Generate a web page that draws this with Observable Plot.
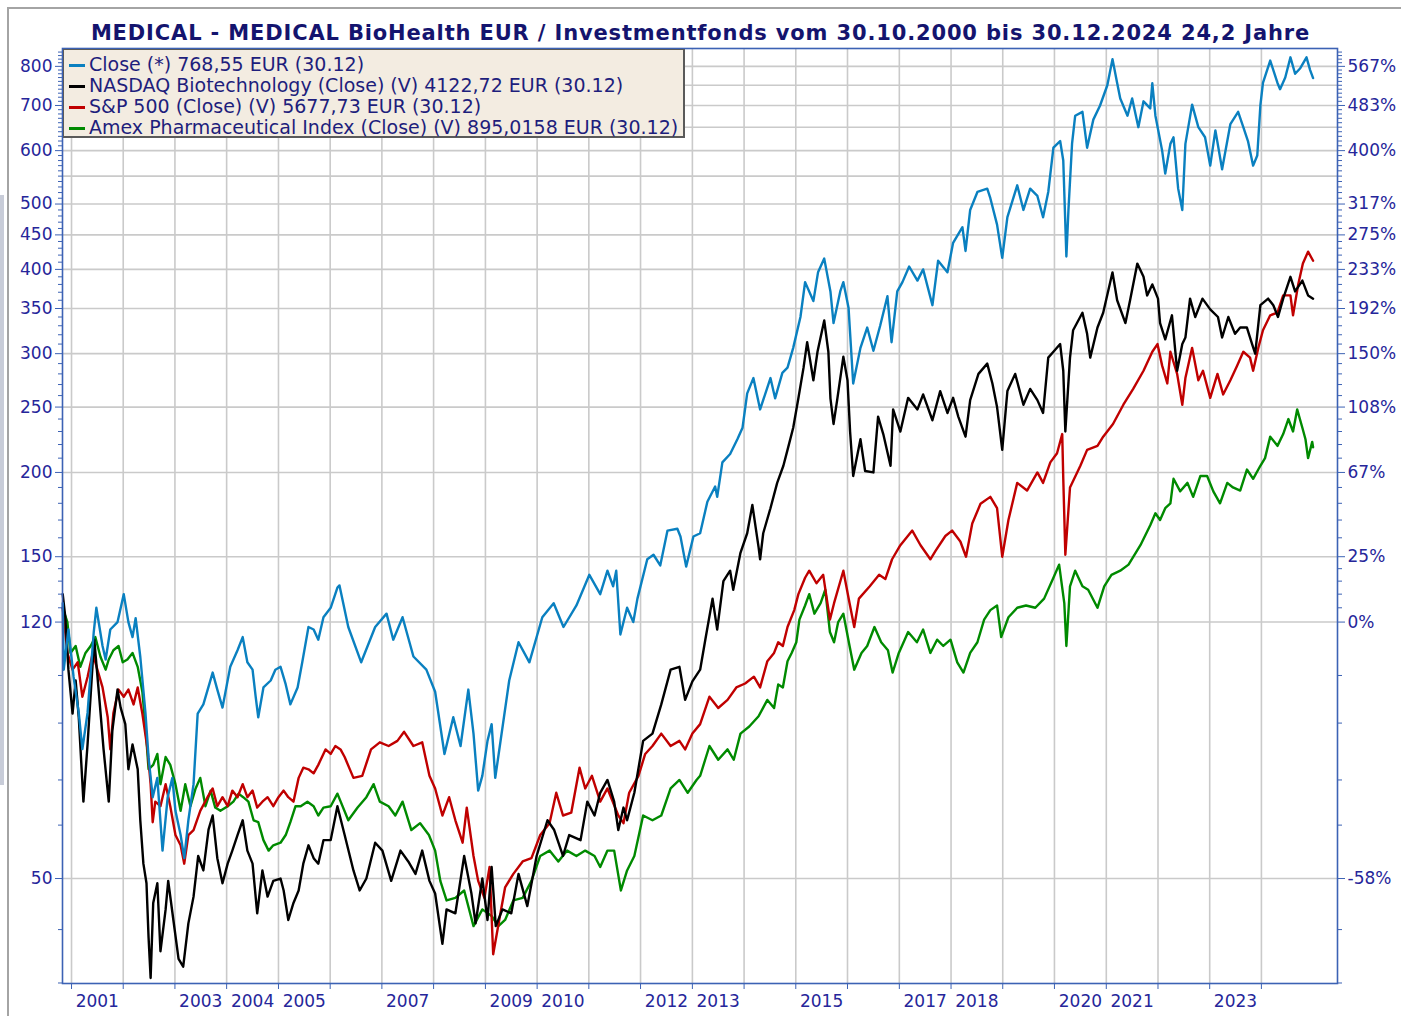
<!DOCTYPE html>
<html>
<head>
<meta charset="utf-8">
<script src="https://cdn.jsdelivr.net/npm/d3@7"></script>
<script src="https://cdn.jsdelivr.net/npm/@observablehq/plot@0.6"></script>
<style>
  html, body { margin: 0; padding: 0; background: #ffffff; }
  #wrap { position: relative; width: 1401px; height: 1016px; overflow: hidden; font-family: "DejaVu Sans", sans-serif; }
  #chart { position: absolute; left: 0; top: 0; }
  #chart svg text { fill: #26269a; }
  #title { position: absolute; left: 0; top: 20px; width: 1401px; text-align: center; font-weight: bold; font-size: 21px; letter-spacing: 0.85px; color: #14146e; white-space: nowrap; line-height: 26px; }
  #legend { position: absolute; left: 63px; top: 49px; width: 622px; height: 89px; background: #f3ece1; border: 1px solid #5a5a5a; border-right-width: 2px; border-bottom-width: 2px; box-sizing: border-box; padding-top: 4px; }
  .lrow { height: 21px; line-height: 21px; font-size: 19px; color: #1e1e7c; white-space: nowrap; position: relative; padding-left: 25px; }
  .lrow .sw { position: absolute; left: 5px; top: 10px; width: 16px; height: 2.5px; }
  #frameTop { position: absolute; left: 8px; top: 7px; width: 1393px; height: 2px; background: #a4a4a4; }
  #frameLeft { position: absolute; left: 7px; top: 7px; width: 2px; height: 1009px; background: #a4a4a4; }
  #sideBar { position: absolute; left: 0; top: 195px; width: 4px; height: 590px; background: #c8ccd8; }
</style>
</head>
<body>
<div id="wrap">
  <div id="frameTop"></div>
  <div id="frameLeft"></div>
  <div id="sideBar"></div>
  <div id="chart"></div>
  <div id="title"></div>
  <div id="legend"></div>
</div>
<script>
// ---------------- DATA ----------------
const titleText = "MEDICAL - MEDICAL BioHealth EUR / Investmentfonds vom 30.10.2000 bis 30.12.2024 24,2 Jahre";

const seriesNames = [
  "Close (*) 768,55 EUR (30.12)",
  "NASDAQ Biotechnology (Close) (V) 4122,72 EUR (30.12)",
  "S&P 500 (Close) (V) 5677,73 EUR (30.12)",
  "Amex Pharmaceutical Index (Close) (V) 895,0158 EUR (30.12)"
];
const seriesColors = ["#0a80c0", "#000000", "#c00000", "#008a00"];

// Fund close (EUR), decimal years
const fundYears = [2000.83,2000.85,2000.94,2001.04,2001.14,2001.21,2001.31,2001.43,2001.48,2001.60,2001.66,2001.75,2001.89,2002.01,2002.10,2002.18,2002.24,2002.33,2002.43,2002.49,2002.57,2002.66,2002.76,2002.86,2002.95,2003.01,2003.11,2003.18,2003.26,2003.36,2003.44,2003.55,2003.73,2003.82,2003.92,2004.07,2004.21,2004.31,2004.40,2004.50,2004.56,2004.61,2004.71,2004.85,2004.94,2005.04,2005.14,2005.23,2005.37,2005.46,2005.58,2005.68,2005.77,2005.87,2006.01,2006.14,2006.18,2006.35,2006.60,2006.87,2007.09,2007.22,2007.40,2007.61,2007.86,2008.03,2008.21,2008.38,2008.52,2008.67,2008.77,2008.86,2008.94,2009.04,2009.12,2009.19,2009.46,2009.64,2009.85,2010.10,2010.32,2010.51,2010.76,2011.01,2011.22,2011.36,2011.47,2011.53,2011.61,2011.74,2011.86,2011.94,2012.13,2012.25,2012.38,2012.52,2012.71,2012.77,2012.88,2013.02,2013.15,2013.29,2013.44,2013.48,2013.58,2013.73,2013.87,2013.97,2014.06,2014.18,2014.31,2014.51,2014.60,2014.74,2014.84,2014.95,2015.09,2015.18,2015.34,2015.43,2015.55,2015.67,2015.73,2015.86,2015.92,2016.02,2016.11,2016.25,2016.38,2016.50,2016.63,2016.77,2016.85,2016.96,2017.06,2017.19,2017.35,2017.46,2017.64,2017.75,2017.93,2018.04,2018.22,2018.28,2018.37,2018.51,2018.70,2018.76,2018.89,2018.99,2019.09,2019.28,2019.40,2019.53,2019.67,2019.78,2019.88,2019.98,2020.11,2020.17,2020.23,2020.27,2020.34,2020.40,2020.54,2020.63,2020.75,2020.88,2021.02,2021.12,2021.21,2021.27,2021.41,2021.50,2021.62,2021.72,2021.85,2021.89,2021.95,2022.08,2022.14,2022.24,2022.30,2022.39,2022.47,2022.53,2022.66,2022.78,2022.91,2023.01,2023.11,2023.24,2023.40,2023.55,2023.65,2023.74,2023.84,2023.92,2023.98,2024.03,2024.17,2024.31,2024.36,2024.46,2024.56,2024.65,2024.75,2024.87,2024.94,2024.997];
const fundValues = [128,102,117,99.5,88,77.8,88,116,126,110.6,105.6,117,120,132,120,114,121.6,106.6,88,75.6,66,70.5,55,66,70.5,63,58,53.6,61,69,87.8,90.6,101,95.3,89.6,103,109,114,104.6,102,93,86.7,96,98.3,102,103,97,90.6,96,104.6,118,117,113,122,126,135,136,118,104.6,118,123.5,113,122,106.7,102,94.6,76.5,86.7,78.6,95.3,82,67.5,71,80,84.7,70.5,98.3,112,104.6,122,128,118,127,141,132,143,135.6,143,115,126,120,130,148.7,151,145.6,164,165,160.7,145,160.7,162.5,181,190.6,184,207,213,224,233,262,276,248,276,257.6,281,286,306,340,383,359,396,415,371,333,371,383,351,271,306,328,303,330,365,312,371,383,404,385,400,354,412,396,438,462,426,490,521,527,510,466,416,478,533,490,527,514,478,521,606,620,580,418,490,615,676,685,606,667,700,750,820,756,717,676,717,650,710,693,755,676,600,555,614,628,527,490,614,702,650,628,570,643,563,657,685,650,620,570,590,700,756,816,756,740,770,825,780,795,825,790,768.55];

// NASDAQ Biotechnology (rebased)
const nbiYears = [2000.83,2000.88,2000.94,2001.02,2001.08,2001.14,2001.23,2001.31,2001.41,2001.44,2001.52,2001.62,2001.72,2001.79,2001.89,2001.95,2002.04,2002.10,2002.18,2002.28,2002.33,2002.39,2002.45,2002.49,2002.53,2002.58,2002.66,2002.72,2002.82,2002.87,2002.97,2003.07,2003.16,2003.26,2003.36,2003.45,2003.55,2003.65,2003.73,2003.82,2003.92,2004.02,2004.11,2004.21,2004.31,2004.40,2004.50,2004.59,2004.69,2004.79,2004.90,2005.04,2005.10,2005.19,2005.29,2005.39,2005.48,2005.58,2005.68,2005.77,2005.87,2006.01,2006.14,2006.28,2006.45,2006.57,2006.70,2006.87,2007.01,2007.18,2007.36,2007.51,2007.65,2007.78,2007.92,2008.03,2008.17,2008.25,2008.42,2008.59,2008.73,2008.81,2008.94,2009.04,2009.12,2009.20,2009.33,2009.50,2009.64,2009.81,2009.99,2010.20,2010.33,2010.50,2010.62,2010.84,2010.97,2011.11,2011.22,2011.36,2011.49,2011.57,2011.67,2011.74,2011.88,2012.05,2012.23,2012.40,2012.58,2012.75,2012.86,2013.00,2013.15,2013.25,2013.39,2013.48,2013.60,2013.73,2013.79,2013.93,2014.06,2014.16,2014.28,2014.31,2014.37,2014.51,2014.64,2014.76,2014.84,2014.95,2015.05,2015.15,2015.22,2015.34,2015.42,2015.55,2015.63,2015.67,2015.73,2015.80,2015.92,2016.00,2016.05,2016.11,2016.25,2016.34,2016.50,2016.59,2016.69,2016.83,2016.88,2017.02,2017.17,2017.35,2017.46,2017.64,2017.79,2017.93,2018.04,2018.14,2018.28,2018.37,2018.53,2018.70,2018.80,2018.89,2018.99,2019.09,2019.24,2019.40,2019.53,2019.67,2019.78,2019.88,2019.98,2020.11,2020.17,2020.21,2020.30,2020.36,2020.54,2020.63,2020.69,2020.83,2020.94,2021.12,2021.21,2021.37,2021.46,2021.60,2021.72,2021.79,2021.89,2022.00,2022.04,2022.14,2022.27,2022.37,2022.47,2022.53,2022.62,2022.72,2022.86,2023.01,2023.16,2023.24,2023.36,2023.49,2023.59,2023.72,2023.82,2023.88,2023.98,2024.13,2024.23,2024.32,2024.42,2024.56,2024.65,2024.79,2024.90,2024.997];
const nbiValues = [132,122,102,87.8,98.3,86.7,65,79,104.6,113,96,77.7,65,82.9,95.3,89.6,84.7,72.6,79,72.6,61,52.6,49.2,40.9,35.6,46,49.2,39,45,49.6,43.4,38,37,42.9,47,54,51.4,59.1,62,53.6,49.2,52.6,55,58,61,55,52.6,44.4,51.4,47,49.6,50,48,43.4,46,48,52.6,56,53.6,52.6,57,57,64,58,51.4,48,50,56.5,55,49.6,55,53,50.8,55,49.6,47.5,40,45,44.4,54,47.5,42.9,50,43.4,52,42.5,45,44.4,50.8,45.5,54,61,59,54,58,57,65,62,67,70,65,59,63.7,61,67,80,82,90.6,102,103,92,98,102,113,130,117,138,143,134,152,162.5,179,155,148.7,162.5,177,193,204.6,216,233,257.6,286,312,274,302,336,302,257.6,236,256,297,274,230,197.6,224,201,200,242,228,204.6,248,230,258,248,261,239,264,245,258,242,226,256,280,290,271,250,216,264,280,252,266,256,245,296,302,310,283,230,296,325,345,321,296,328,345,396,360,333,360,408,390,366,380,362,333,315,342,283,310,317,362,340,362,349,340,317,340,321,328,328,310,300,354,362,354,340,362,390,371,385,366,362];

// S&P 500 (rebased)
const spxYears = [2000.83,2000.92,2001.02,2001.12,2001.21,2001.31,2001.41,2001.50,2001.60,2001.70,2001.75,2001.81,2001.91,2002.01,2002.10,2002.20,2002.28,2002.37,2002.47,2002.53,2002.57,2002.62,2002.72,2002.82,2002.91,2003.01,2003.11,2003.18,2003.26,2003.36,2003.49,2003.63,2003.73,2003.82,2003.92,2004.02,2004.11,2004.21,2004.31,2004.40,2004.50,2004.59,2004.69,2004.79,2004.90,2005.00,2005.10,2005.19,2005.29,2005.39,2005.48,2005.58,2005.68,2005.77,2005.91,2006.01,2006.10,2006.20,2006.28,2006.45,2006.62,2006.79,2006.96,2007.13,2007.30,2007.43,2007.61,2007.78,2007.92,2008.03,2008.17,2008.30,2008.42,2008.56,2008.64,2008.77,2008.86,2008.98,2009.08,2009.15,2009.29,2009.38,2009.54,2009.72,2009.89,2010.06,2010.24,2010.37,2010.50,2010.66,2010.82,2010.93,2011.06,2011.22,2011.36,2011.57,2011.67,2011.78,2011.96,2012.09,2012.23,2012.40,2012.58,2012.75,2012.86,2013.00,2013.15,2013.33,2013.50,2013.68,2013.85,2014.02,2014.19,2014.31,2014.45,2014.58,2014.66,2014.75,2014.84,2014.97,2015.05,2015.18,2015.26,2015.40,2015.53,2015.66,2015.74,2015.92,2016.04,2016.13,2016.22,2016.43,2016.61,2016.73,2016.86,2017.02,2017.25,2017.41,2017.60,2017.70,2017.89,2018.02,2018.18,2018.29,2018.41,2018.57,2018.76,2018.89,2018.99,2019.11,2019.28,2019.47,2019.67,2019.78,2019.92,2020.05,2020.15,2020.17,2020.21,2020.30,2020.50,2020.63,2020.83,2020.94,2021.13,2021.33,2021.52,2021.72,2021.89,2021.99,2022.08,2022.18,2022.24,2022.37,2022.47,2022.53,2022.66,2022.78,2022.87,2023.01,2023.15,2023.26,2023.40,2023.53,2023.65,2023.78,2023.84,2023.94,2024.03,2024.17,2024.31,2024.42,2024.56,2024.61,2024.71,2024.80,2024.90,2024.997];
const spxValues = [126,108,102,104.6,93,99.5,108,102,96,86.7,77.7,88,95.3,93,95.3,90.6,96,87.8,77.7,69,60.6,65,64,69,64,58,56,52.6,58,59,63,66,68,64,66,64,67.5,66,69,66,67.5,63.7,65,66,64,66,67.5,66,65,70.5,73,72.6,71.6,73.7,77.7,76.5,78.6,77.7,75.7,70.5,71,77.7,79.6,78.6,80,82.5,78.6,79.6,71,68,62,66,61,56.5,63.7,54,49.6,46.8,52,38.6,44.4,48.5,50.8,53,53.6,58,60.4,67,62,62.6,73,68,71,65,68,62,60.4,67,71,76.5,78.6,82,78.6,80,77.7,82,84.7,93,89.5,92,96,97.3,99.6,96,105,108,112,110.6,118,125,132,139.6,143,137,141,121,128,143,128,118,130,135.6,141,139,148.7,156,164,156,148.7,153,161,164,158,150,168,179.7,184,177,150,170,193,188,200,193,207,213.5,228,196,151,190,204.6,216,219,226,236,252,266,283,302,310,288,271,302,280,252,276,306,274,283,258,280,261,274,288,302,296,283,306,325,342,345,366,366,342,380,408,425,412];

// Amex Pharmaceutical Index (rebased)
const drgYears = [2000.83,2000.92,2000.98,2001.08,2001.17,2001.27,2001.37,2001.46,2001.56,2001.66,2001.72,2001.81,2001.91,2001.99,2002.08,2002.18,2002.28,2002.37,2002.43,2002.49,2002.58,2002.66,2002.72,2002.82,2002.91,2003.01,2003.11,2003.20,2003.30,2003.40,2003.49,2003.59,2003.69,2003.78,2003.88,2004.02,2004.13,2004.23,2004.32,2004.42,2004.52,2004.61,2004.71,2004.81,2004.90,2005.04,2005.14,2005.23,2005.33,2005.43,2005.56,2005.68,2005.77,2005.87,2006.01,2006.14,2006.35,2006.53,2006.70,2006.84,2006.96,2007.13,2007.26,2007.40,2007.57,2007.74,2007.91,2008.03,2008.13,2008.25,2008.42,2008.59,2008.77,2008.94,2009.12,2009.25,2009.38,2009.54,2009.72,2009.89,2010.06,2010.24,2010.41,2010.58,2010.76,2010.93,2011.11,2011.22,2011.36,2011.49,2011.62,2011.74,2011.88,2012.05,2012.23,2012.40,2012.58,2012.75,2012.91,2013.08,2013.15,2013.33,2013.50,2013.68,2013.80,2013.93,2014.10,2014.28,2014.45,2014.58,2014.66,2014.75,2014.84,2014.92,2015.01,2015.07,2015.18,2015.26,2015.36,2015.48,2015.57,2015.66,2015.74,2015.82,2015.92,2016.04,2016.13,2016.27,2016.38,2016.52,2016.65,2016.78,2016.87,2016.99,2017.17,2017.34,2017.46,2017.60,2017.73,2017.85,2017.99,2018.12,2018.24,2018.37,2018.51,2018.64,2018.76,2018.89,2018.97,2019.11,2019.28,2019.45,2019.63,2019.80,2019.98,2020.09,2020.19,2020.23,2020.30,2020.40,2020.54,2020.65,2020.83,2020.96,2021.10,2021.27,2021.43,2021.66,2021.85,2021.95,2022.04,2022.14,2022.24,2022.30,2022.43,2022.57,2022.68,2022.82,2022.95,2023.07,2023.20,2023.34,2023.45,2023.59,2023.72,2023.84,2023.98,2024.07,2024.17,2024.31,2024.42,2024.52,2024.61,2024.69,2024.79,2024.85,2024.90,2024.98,2024.997];
const drgValues = [126,120,108,110.6,103,108,110.6,114,106.6,102,105.6,109,110.6,104.6,105.6,108,103,94.6,84,72.6,73.7,76.5,69,75.7,73.7,69,63,69,64,68,70.5,64,67.5,63.7,63,64,65,66.8,66,65,61,60.6,57,55,56,56.5,58,60.6,64,64,65,64,62,63.7,64,66.8,61,63.7,66,69,65,64,62,65,59,60.4,58,55,49.6,46.4,46.8,48,42.5,45,44,42.5,43.4,46.4,46.8,49.6,54,55,53,55,54,55,54,52,55,55,48,51.4,54,62,61,62,68,70,67,70,71,78.6,75,77.7,75,82,84,87,92,89.5,97,96,105,108,112,121,127,132,123.5,128,134,116,112,120,123.5,110.6,102,108,110.6,118,112,109,101,108,116,112,117,108,113,110.6,113,104.6,101,108,112,121,125,127,114,122,126,127,126,130,139.6,146,128,110.6,135.6,143,135.6,134,126,135.6,141,143,146,156,167,174,170,177,180,195.7,187.5,193,184,197.6,197.6,187.5,180,193,190,188,202,195.7,204.6,210,226,219,228,240,230,248,233,224,210,222,218];

// Axis ticks and labels
const yTicks = [50, 120, 150, 200, 250, 300, 350, 400, 450, 500, 600, 700, 800];
const yLeftLabels = ["50","120","150","200","250","300","350","400","450","500","600","700","800"];
const yRightLabels = ["-58%","0%","25%","67%","108%","150%","192%","233%","275%","317%","400%","483%","567%"];
const yGridValues = [50, 120, 150, 200, 250, 300, 350, 400, 450, 500, 550, 600, 650, 700, 750, 800];
const yMinorTicks = [35, 42, 60, 70, 85, 100, 126, 132, 138, 144, 160, 170, 180, 190, 210, 220, 230, 240, 260, 270, 280, 290, 310, 320, 330, 340, 360, 370, 380, 390, 410, 420, 430, 440, 460, 470, 480, 490, 510, 520, 530, 540, 550, 560, 570, 580, 590, 610, 620, 630, 640, 650, 660, 670, 680, 690, 710, 720, 730, 740, 750, 760, 770, 780, 790, 810, 820, 830, 840];
const gridYears = [2001,2002,2003,2004,2005,2006,2007,2008,2009,2010,2011,2012,2013,2014,2015,2016,2017,2018,2019,2020,2021,2022,2023,2024];
const labelYears = [2001,2003,2004,2005,2007,2009,2010,2012,2013,2015,2017,2018,2020,2021,2023];
const xDomainYears = [2000.826, 2025.469];
const yDomain = [34.94, 850.3];

// ---------------- BUILD ----------------
function toDate(t) {
  const y = Math.floor(t);
  const a = Date.UTC(y, 0, 1), b = Date.UTC(y + 1, 0, 1);
  return new Date(a + (t - y) * (b - a));
}
function rows(years, values) { return years.map((t, i) => ({date: toDate(t), value: values[i]})); }

const fund = rows(fundYears, fundValues);
const nbi = rows(nbiYears, nbiValues);
const spx = rows(spxYears, spxValues);
const drg = rows(drgYears, drgValues);

const gridDates = gridYears.map(y => new Date(Date.UTC(y, 0, 1)));
const labelDates = labelYears.map(y => new Date(Date.UTC(y, 6, 2)));
const leftTickRows = yTicks.map((v, i) => ({v, label: yLeftLabels[i]}));
const rightTickRows = yTicks.map((v, i) => ({v, label: yRightLabels[i]}));

const axisBlue = "#3c62b4";
const labelBlue = "#26269a";
const gridGray = "#cacaca";
const lw = 2.4;

const chart = Plot.plot({
  width: 1401,
  height: 1016,
  marginLeft: 62,
  marginRight: 64,
  marginTop: 48,
  marginBottom: 33,
  style: {fontFamily: "DejaVu Sans, sans-serif", fontSize: "17px", background: "transparent", overflow: "visible"},
  x: {type: "utc", domain: xDomainYears.map(toDate)},
  y: {type: "log", domain: yDomain},
  marks: [
    Plot.ruleX(gridDates, {stroke: gridGray, strokeWidth: 1.6}),
    Plot.ruleY(yGridValues, {stroke: gridGray, strokeWidth: 1.6}),
    Plot.lineY(drg, {x: "date", y: "value", stroke: seriesColors[3], strokeWidth: lw}),
    Plot.lineY(spx, {x: "date", y: "value", stroke: seriesColors[2], strokeWidth: lw}),
    Plot.lineY(nbi, {x: "date", y: "value", stroke: seriesColors[1], strokeWidth: lw}),
    Plot.lineY(fund, {x: "date", y: "value", stroke: seriesColors[0], strokeWidth: lw}),
    Plot.frame({stroke: axisBlue, strokeWidth: 1.6}),
    // left axis ticks
    Plot.axisY({anchor: "left", ticks: yMinorTicks, tickSize: 4, stroke: axisBlue, tickFormat: () => "", label: null}),
    Plot.axisY({anchor: "left", ticks: yTicks, tickSize: 7, stroke: axisBlue, tickFormat: () => "", label: null}),
    Plot.text(leftTickRows, {y: "v", text: "label", frameAnchor: "left", dx: -10, textAnchor: "end", fill: labelBlue, fontSize: 17}),
    // right axis ticks
    Plot.axisY({anchor: "right", ticks: yMinorTicks, tickSize: 4, stroke: axisBlue, tickFormat: () => "", label: null}),
    Plot.axisY({anchor: "right", ticks: yTicks, tickSize: 7, stroke: axisBlue, tickFormat: () => "", label: null}),
    Plot.text(rightTickRows, {y: "v", text: "label", frameAnchor: "right", dx: 10, textAnchor: "start", fill: labelBlue, fontSize: 17}),
    // bottom axis
    Plot.axisX({anchor: "bottom", ticks: gridDates, tickSize: 6, stroke: axisBlue, tickFormat: () => "", label: null}),
    Plot.axisX({anchor: "bottom", ticks: labelDates, tickSize: 0, tickPadding: 11,
      tickFormat: (d) => String(d.getUTCFullYear()), fontSize: 17, label: null})
  ]
});
document.getElementById("chart").appendChild(chart);

document.getElementById("title").textContent = titleText;

const legend = document.getElementById("legend");
seriesNames.forEach((name, i) => {
  const row = document.createElement("div");
  row.className = "lrow";
  const sw = document.createElement("span");
  sw.className = "sw";
  sw.style.background = seriesColors[i];
  row.appendChild(sw);
  row.appendChild(document.createTextNode(name));
  legend.appendChild(row);
});
</script>
</body>
</html>
